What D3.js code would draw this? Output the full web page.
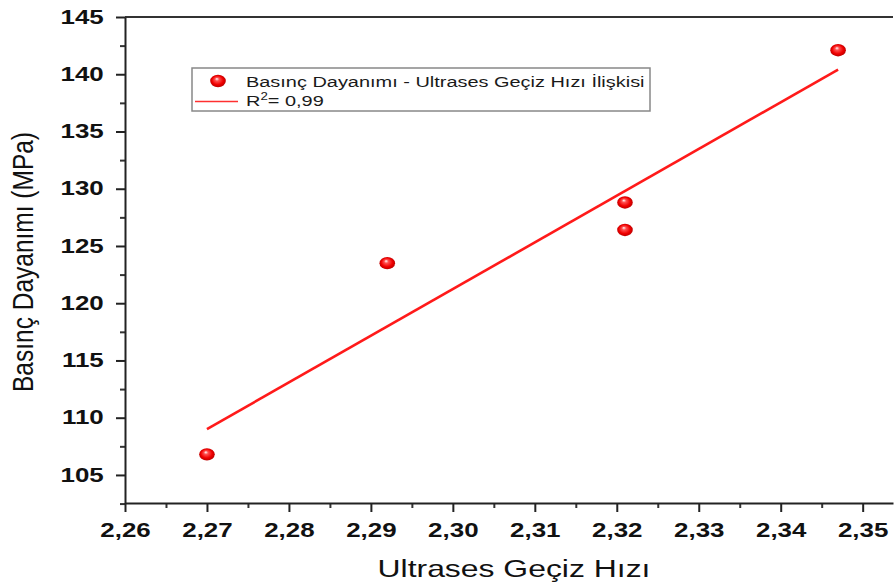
<html>
<head>
	<style>
		body{margin:0;background:#fff;}
		svg{display:block;font-family:"Liberation Sans",Arial,sans-serif;}
	</style>
</head>
<body>
	<script src="https://d3js.org/d3.v7.min.js"></script>
	<script>
var width = 894, height = 583;
// data
let hiz = [2.27, 2.292, 2.321, 2.321, 2.347]
let basinc = [106.8, 123.5, 128.8, 126.4, 142.1]
let fitX = [2.27, 2.347]
let fitY = [109.0, 140.4]
let xTicks = [2.26, 2.27, 2.28, 2.29, 2.30, 2.31, 2.32, 2.33, 2.34, 2.35]
let yTicks = [105, 110, 115, 120, 125, 130, 135, 140, 145]
let legendLabels = ["Basınç Dayanımı - Ultrases Geçiz Hızı İlişkisi", "R", "2", "= 0,99"]

let pLeft = 125, pTop = 17, pRight = 893, pBottom = 503
let sx = 1.33 // picture is stretched sideways

var svg = d3.select("body").append("svg")
	.attr("width", width).attr("height", height)

let defs = svg.append("defs")
let grad = defs.append("radialGradient").attr("id","ball")
	.attr("cx","50%").attr("cy","50%").attr("r","55%")
	.attr("fx","42%").attr("fy","32%")
grad.append("stop").attr("offset","0%").attr("stop-color","#ffffff")
grad.append("stop").attr("offset","25%").attr("stop-color","#ff5050")
grad.append("stop").attr("offset","65%").attr("stop-color","#f00000")
grad.append("stop").attr("offset","100%").attr("stop-color","#b00000")

var xscale = d3.scaleLinear().domain([2.26, 2.3537]).range([pLeft, pRight])
var yscale = d3.scaleLinear().domain([102.55, 145]).range([pBottom, pTop])

let fmt = d => d.toFixed(2).replace(".", ",")

// top border
svg.append("line").attr("x1", pLeft).attr("x2", pRight).attr("y1", pTop).attr("y2", pTop)
	.attr("stroke","#333").attr("stroke-width",2)

// minor ticks
let xMinor = xTicks.map(d => d + 0.005).filter(d => d < 2.3537)
let yMinor = yTicks.map(d => d - 2.5)
svg.append("g").attr("transform", `translate(0,${pBottom})`)
	.call(d3.axisBottom(xscale).tickValues(xMinor).tickSize(5).tickFormat(""))
	.call(g => g.select(".domain").remove())
	.selectAll("line").attr("stroke","#333").attr("stroke-width",2)
svg.append("g").attr("transform", `translate(${pLeft},0)`)
	.call(d3.axisLeft(yscale).tickValues(yMinor).tickSize(5).tickFormat(""))
	.call(g => g.select(".domain").remove())
	.selectAll("line").attr("stroke","#333").attr("stroke-width",2)

// main axes
let xAxis = svg.append("g").attr("transform", `translate(0,${pBottom})`)
	.call(d3.axisBottom(xscale).tickValues(xTicks).tickSize(9).tickSizeOuter(0).tickFormat(fmt))
let yAxis = svg.append("g").attr("transform", `translate(${pLeft},0)`)
	.call(d3.axisLeft(yscale).tickValues(yTicks).tickSize(9).tickSizeOuter(0))
;[xAxis, yAxis].forEach(a => {
	a.select(".domain").attr("stroke","#222").attr("stroke-width",2)
	a.selectAll("line").attr("stroke","#222").attr("stroke-width",2)
	a.selectAll("text").attr("font-size",19.5).attr("font-weight","bold")
		.attr("font-family","'Liberation Sans',Arial,sans-serif").attr("fill","#111")
})
xAxis.selectAll("text").attr("y",20).attr("transform",`scale(${sx},1)`)
yAxis.selectAll("text").attr("x",-16).attr("transform",`scale(${sx},1)`)

// fit line
svg.append("line")
	.attr("x1", xscale(fitX[0])).attr("y1", yscale(fitY[0]))
	.attr("x2", xscale(fitX[1])).attr("y2", yscale(fitY[1]))
	.attr("stroke","#ff1a1a").attr("stroke-width",2.6)

// points
svg.selectAll(".pt").data(hiz).enter().append("ellipse")
	.attr("class","pt")
	.attr("cx", d => xscale(d))
	.attr("cy", (d,i) => yscale(basinc[i]))
	.attr("rx", 7.8).attr("ry", 6.2)
	.attr("fill","url(#ball)")

// legend
let lg = svg.append("g")
lg.append("rect").attr("x",192).attr("y",68).attr("width",458).attr("height",43)
	.attr("fill","#fff").attr("stroke","#888").attr("stroke-width",1.5)
lg.append("ellipse").attr("cx",218).attr("cy",81).attr("rx",7.8).attr("ry",6.2).attr("fill","url(#ball)")
lg.append("line").attr("x1",195).attr("x2",238).attr("y1",101.5).attr("y2",101.5)
	.attr("stroke","#ff3030").attr("stroke-width",1.5)
lg.append("text").attr("transform",`translate(246,87) scale(${sx},1)`)
	.attr("font-size",15).attr("fill","#1a1a1a").text(legendLabels[0])
let r2 = lg.append("text").attr("transform",`translate(246,106) scale(${sx},1)`)
	.attr("font-size",15).attr("fill","#1a1a1a")
r2.append("tspan").text(legendLabels[1])
r2.append("tspan").attr("font-size",10).attr("dy",-6).text(legendLabels[2])
r2.append("tspan").attr("dy",6).text(legendLabels[3])

// axis titles
svg.append("text").attr("transform",`translate(514,577) scale(${sx},1)`)
	.attr("text-anchor","middle").attr("font-size",24).attr("fill","#111")
	.text("Ultrases Geçiz Hızı")
svg.append("text").attr("transform",`translate(33,262) rotate(-90) scale(1,${sx*0.9})`)
	.attr("text-anchor","middle").attr("font-size",24.5).attr("fill","#111")
	.text("Basınç Dayanımı (MPa)")
	</script>
</body>
</html>
